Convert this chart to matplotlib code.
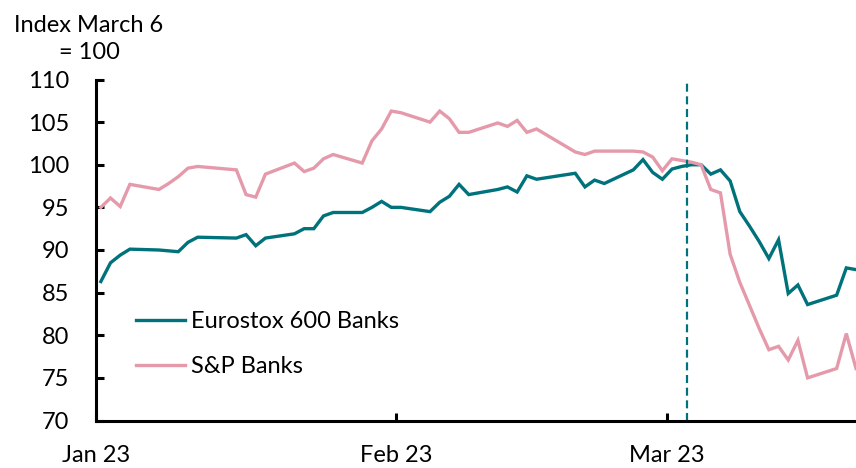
import numpy as np
import pandas as pd
import matplotlib
matplotlib.use("Agg")
import matplotlib.pyplot as plt

plt.rcParams['font.family'] = ['Lato', 'DejaVu Sans']

# trading days, counted from 1 Jan 2023
day_offsets = [0, 1, 2, 3, 6, 7, 8, 9, 10, 14, 15, 16, 17, 20, 21, 22, 23, 24,
               27, 28, 29, 30, 31, 34, 35, 36, 37, 38, 41, 42, 43, 44, 45,
               49, 50, 51, 52, 55, 56, 57, 58, 59, 60, 61, 62, 63, 64, 65,
               66, 67, 68, 69, 70, 71, 72, 73, 76, 77, 78]

eurostox = [86.3, 88.5, 89.4, 90.1, 90.0, 89.9, 89.8, 90.9, 91.5, 91.4, 91.8,
            90.5, 91.4, 91.9, 92.5, 92.5, 94.0, 94.4, 94.4, 95.0, 95.7, 95.0,
            95.0, 94.5, 95.6, 96.3, 97.7, 96.5, 97.1, 97.4, 96.8, 98.7, 98.3,
            99.0, 97.4, 98.2, 97.8, 99.4, 100.6, 99.1, 98.3, 99.5, 99.8,
            100.0, 100.0, 98.9, 99.4, 98.1, 94.5, 92.8, 91.0, 89.0, 91.2,
            84.9, 85.9, 83.6, 84.7, 87.9, 87.7]

sp_banks = [95.0, 96.1, 95.1, 97.7, 97.1, 97.8, 98.6, 99.6, 99.8, 99.4, 96.5,
            96.2, 98.9, 100.2, 99.2, 99.6, 100.7, 101.2, 100.2, 102.8, 104.2,
            106.3, 106.1, 105.0, 106.3, 105.4, 103.8, 103.8, 104.9, 104.5,
            105.2, 103.8, 104.2, 101.5, 101.2, 101.6, 101.6, 101.6, 101.5,
            100.9, 99.3, 100.7, 100.5, 100.3, 100.0, 97.1, 96.7, 89.5, 86.2,
            83.5, 80.8, 78.3, 78.7, 77.1, 79.4, 75.0, 76.1, 80.2, 76.1]

series_names = ['Eurostox 600 Banks', 'S&P Banks']
month_ticks = ['2023-01-01', '2023-02-01', '2023-03-01']
month_labels = ['Jan 23', 'Feb 23', 'Mar 23']
marker_date = '2023-03-03'

teal = '#00727b'
pink = '#e59aab'
fs = 17

start = pd.Timestamp('2023-01-01')
# Excel style date axis: points sit in the middle of each day
dates = start + pd.to_timedelta(day_offsets, unit='D') + pd.Timedelta(hours=12)

fig = plt.figure(figsize=(8.56, 4.68), dpi=100)
ax = fig.add_axes([96 / 856, 47.5 / 468, 760 / 856, 341 / 468])

ax.plot(dates, eurostox, color=teal, lw=2.4, label=series_names[0],
        solid_joinstyle='miter', clip_on=False)
ax.plot(dates, sp_banks, color=pink, lw=2.4, label=series_names[1],
        solid_joinstyle='miter', clip_on=False)
ax.axvline(pd.Timestamp(marker_date), ymax=0.995, color=teal, lw=1.6,
           ls=(0, (3.6, 2.1)))

ax.set_xlim(start, start + pd.Timedelta(days=78.5))
ax.set_ylim(70, 110)
ax.set_yticks(np.arange(70, 111, 5))
ax.set_xticks(pd.to_datetime(month_ticks))
ax.set_xticklabels(month_labels)

for s in ['top', 'right']:
    ax.spines[s].set_visible(False)
for s in ['left', 'bottom']:
    ax.spines[s].set_linewidth(2.2)
ax.tick_params(axis='both', direction='in', length=5.5, width=2.2,
               labelsize=fs)
ax.tick_params(axis='y', pad=19)
ax.tick_params(axis='x', pad=18)

fig.text(89 / 856, 1 - 39 / 468, 'Index March 6\n= 100', ha='center',
         va='center', fontsize=fs, linespacing=1.4)

ax.legend(loc='upper left', bbox_to_anchor=(0.04, 0.348), frameon=False,
          fontsize=fs, handlelength=2.1, handletextpad=0.25,
          labelspacing=1.0, borderaxespad=0)

fig.savefig('out.png', dpi=100)
